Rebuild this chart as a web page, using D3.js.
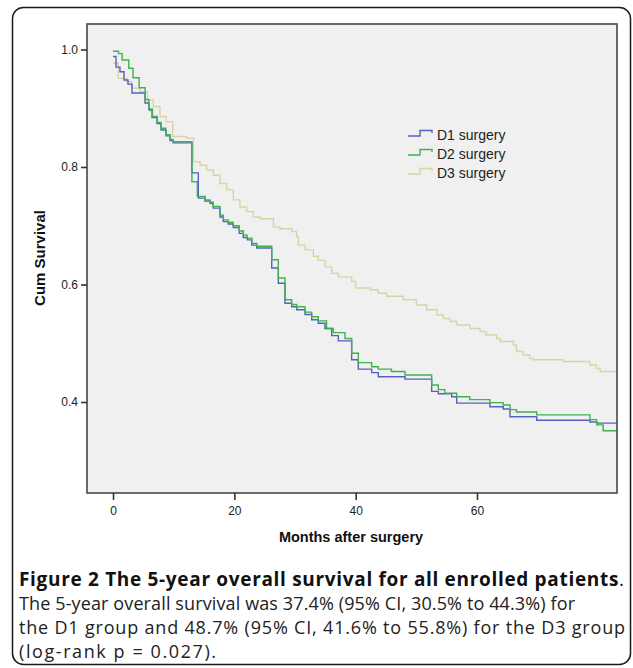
<!DOCTYPE html>
<html>
<head>
<meta charset="utf-8">
<script src="https://cdn.jsdelivr.net/npm/d3@7/dist/d3.min.js"></script>
<style>
  html, body { margin: 0; padding: 0; background: #ffffff; }
  svg { display: block; }
</style>
</head>
<body>
<svg id="chart" width="633" height="668"></svg>
<script>
// ---------- data ----------
const seriesNames = ["D1 surgery", "D2 surgery", "D3 surgery"];
const seriesColors = ["#5560c0", "#3cb44b", "#d9d3a6"];

// [month, cumulative survival] step points
const d1Steps = [
  [0, 0.988], [0.49, 0.970], [1.15, 0.962], [1.81, 0.948], [2.47, 0.941], [3.13, 0.926],
  [5.27, 0.909], [5.93, 0.897], [6.43, 0.884], [7.25, 0.874], [7.91, 0.863], [8.74, 0.853],
  [9.40, 0.845], [9.9, 0.841], [13.0, 0.790], [14.06, 0.747], [15.16, 0.742], [15.99, 0.738],
  [16.53, 0.730], [17.64, 0.715], [18.18, 0.707], [19.0, 0.703], [19.83, 0.697], [20.82, 0.687],
  [21.48, 0.680], [22.14, 0.676], [22.86, 0.667], [23.69, 0.662], [26.16, 0.628], [27.25, 0.602],
  [28.35, 0.568], [29.45, 0.562], [30.28, 0.557], [31.65, 0.549], [32.75, 0.540], [33.84, 0.534],
  [34.94, 0.525], [36.05, 0.513], [37.14, 0.504], [39.34, 0.472], [40.43, 0.456], [42.64, 0.450],
  [43.73, 0.443], [48.13, 0.439], [52.53, 0.418], [53.62, 0.414], [55.83, 0.409], [56.65, 0.398],
  [62.14, 0.392], [64.33, 0.388], [65.44, 0.375], [69.84, 0.369], [78.62, 0.366], [79.73, 0.364]
];
const d2Steps = [
  [0, 0.997], [0.9, 0.993], [1.5, 0.982], [2.6, 0.968], [3.3, 0.952], [4.3, 0.935],
  [5.3, 0.915], [5.9, 0.899], [6.5, 0.886], [7.3, 0.876], [7.9, 0.866], [8.7, 0.855],
  [9.4, 0.847], [9.9, 0.843], [13.0, 0.775], [13.9, 0.750], [15.2, 0.744], [16.0, 0.740],
  [16.5, 0.733], [17.6, 0.718], [18.2, 0.710], [19.0, 0.706], [19.8, 0.700], [20.8, 0.691],
  [21.5, 0.684], [22.1, 0.679], [22.9, 0.670], [23.7, 0.665], [26.16, 0.642], [27.25, 0.611],
  [28.35, 0.574], [29.45, 0.566], [30.3, 0.562], [31.65, 0.553], [32.75, 0.545], [33.84, 0.538],
  [35.2, 0.525], [36.3, 0.518], [38.24, 0.508], [39.34, 0.483], [40.43, 0.467], [42.64, 0.460],
  [43.73, 0.456], [45.9, 0.452], [48.13, 0.446], [52.53, 0.429], [53.62, 0.421], [54.7, 0.415],
  [56.65, 0.409], [58.8, 0.404], [62.14, 0.399], [64.33, 0.395], [65.44, 0.387], [66.5, 0.383],
  [69.84, 0.378], [78.62, 0.370], [79.73, 0.361], [80.8, 0.351]
];
const d3Steps = [
  [0, 0.977], [0.87, 0.951], [2.25, 0.945], [3.08, 0.934], [4.45, 0.928], [5.66, 0.914],
  [6.64, 0.903], [7.75, 0.886], [8.74, 0.877], [9.84, 0.852], [12.15, 0.849], [13.26, 0.809],
  [14.34, 0.803], [15.44, 0.795], [16.53, 0.786], [17.63, 0.772], [18.74, 0.761], [19.83, 0.744],
  [20.93, 0.732], [22.03, 0.724], [23.13, 0.715], [24.23, 0.712], [26.43, 0.698], [27.53, 0.695],
  [29.46, 0.690], [30.28, 0.681], [30.55, 0.667], [31.65, 0.659], [33.02, 0.648], [33.84, 0.641],
  [34.94, 0.630], [36.05, 0.619], [37.14, 0.613], [39.34, 0.605], [40.0, 0.594], [42.38, 0.591],
  [43.73, 0.585], [45.1, 0.580], [47.85, 0.574], [50.0, 0.565], [51.7, 0.557], [53.36, 0.548],
  [54.46, 0.542], [55.56, 0.537], [56.65, 0.531], [58.85, 0.525], [60.5, 0.520], [61.5, 0.514],
  [63.23, 0.508], [63.8, 0.503], [66.0, 0.497], [66.5, 0.486], [67.6, 0.480], [68.7, 0.474],
  [69.3, 0.472], [74.2, 0.469], [78.6, 0.463], [79.7, 0.457], [80.3, 0.452]
];
const allSteps = [d1Steps, d2Steps, d3Steps];

const xTicks = [0, 20, 40, 60];
const yTicks = [0.4, 0.6, 0.8, 1.0];
const xDomain = [-4.29, 83.08];
const yDomain = [0.2451, 1.0434];

const xTitle = "Months after surgery";
const yTitle = "Cum Survival";
const captionBold = "Figure 2 The 5-year overall survival for all enrolled patients";
const captionLines = [
  "The 5-year overall survival was 37.4% (95% CI, 30.5% to 44.3%) for",
  "the D1 group and 48.7% (95% CI, 41.6% to 55.8%) for the D3 group",
  "(log-rank p = 0.027)."
];

// ---------- layout ----------
const svg = d3.select("#chart");
const plot = { left: 87, top: 24, right: 617, bottom: 493 };

// outer rounded frame
svg.append("rect")
  .attr("x", 12.5).attr("y", 7.5)
  .attr("width", 618).attr("height", 657)
  .attr("rx", 11).attr("ry", 11)
  .attr("fill", "#ffffff")
  .attr("stroke", "#1a1a1a").attr("stroke-width", 1.5);

const x = d3.scaleLinear().domain(xDomain).range([plot.left, plot.right]);
const y = d3.scaleLinear().domain(yDomain).range([plot.bottom, plot.top]);

// plot background
svg.append("rect")
  .attr("x", plot.left).attr("y", plot.top)
  .attr("width", plot.right - plot.left).attr("height", plot.bottom - plot.top)
  .attr("fill", "#f0f0f0");

svg.append("clipPath").attr("id", "clip")
  .append("rect")
  .attr("x", plot.left).attr("y", plot.top)
  .attr("width", plot.right - plot.left).attr("height", plot.bottom - plot.top);

// curves
const line = d3.line()
  .x(d => x(d[0])).y(d => y(d[1]))
  .curve(d3.curveStepAfter);

const g = svg.append("g").attr("clip-path", "url(#clip)");
[2, 0, 1].forEach(i => {
  const pts = allSteps[i].slice();
  pts.push([xDomain[1] + 1, pts[pts.length - 1][1]]);
  g.append("path")
    .datum(pts)
    .attr("fill", "none")
    .attr("stroke", seriesColors[i])
    .attr("stroke-width", 1.4)
    .attr("d", line);
});

// plot frame
svg.append("rect")
  .attr("x", plot.left).attr("y", plot.top)
  .attr("width", plot.right - plot.left).attr("height", plot.bottom - plot.top)
  .attr("fill", "none")
  .attr("stroke", "#474747").attr("stroke-width", 1.6);

// axes
const yAxis = d3.axisLeft(y).tickValues(yTicks).tickFormat(d3.format(".1f")).tickSize(6).tickPadding(3);
const yg = svg.append("g").attr("transform", `translate(${plot.left},0)`).call(yAxis);
yg.select(".domain").remove();
yg.selectAll(".tick line").attr("stroke", "#333").attr("stroke-width", 1.6);
yg.selectAll(".tick text")
  .attr("font-family", "'Liberation Sans', Arial, sans-serif")
  .attr("font-size", 12).attr("fill", "#222");

const xAxis = d3.axisBottom(x).tickValues(xTicks).tickFormat(d3.format("d")).tickSize(7).tickPadding(6);
const xg = svg.append("g").attr("transform", `translate(0,${plot.bottom})`).call(xAxis);
xg.select(".domain").remove();
xg.selectAll(".tick line").attr("stroke", "#333").attr("stroke-width", 1.6);
xg.selectAll(".tick text")
  .attr("font-family", "'Liberation Sans', Arial, sans-serif")
  .attr("font-size", 12).attr("fill", "#222");

// axis titles
svg.append("text")
  .attr("x", 351).attr("y", 542)
  .attr("text-anchor", "middle")
  .attr("font-family", "'Liberation Sans', Arial, sans-serif")
  .attr("font-weight", "bold").attr("font-size", 14.5).attr("fill", "#111")
  .text(xTitle);

svg.append("text")
  .attr("transform", "translate(45,258) rotate(-90)")
  .attr("text-anchor", "middle")
  .attr("font-family", "'Liberation Sans', Arial, sans-serif")
  .attr("font-weight", "bold").attr("font-size", 15).attr("fill", "#111")
  .text(yTitle);

// legend
const legend = svg.append("g").attr("transform", "translate(408,135)");
seriesNames.forEach((name, i) => {
  const row = legend.append("g").attr("transform", `translate(0,${i * 19})`);
  row.append("path")
    .attr("d", "M0,1 H12 V-4.5 H24 V-2")
    .attr("fill", "none")
    .attr("stroke", seriesColors[i]).attr("stroke-width", 1.4);
  row.append("text")
    .attr("x", 29).attr("y", 5)
    .attr("font-family", "'Liberation Sans', Arial, sans-serif")
    .attr("font-size", 14).attr("fill", "#222")
    .text(name);
});

// caption
const capFont = "'Open Sans', 'Noto Sans', sans-serif";
const cap = svg.append("text")
  .attr("x", 19).attr("y", 586)
  .attr("font-family", capFont)
  .attr("font-size", 19).attr("fill", "#111")
  .attr("textLength", 605).attr("lengthAdjust", "spacing");
cap.append("tspan").attr("font-weight", "bold").text(captionBold);
cap.append("tspan").text(".");

const capWidths = [556, 606, 197];
captionLines.forEach((t, i) => {
  svg.append("text")
    .attr("x", 19).attr("y", 610 + i * 24)
    .attr("font-family", capFont)
    .attr("font-size", 18).attr("fill", "#222")
    .attr("textLength", capWidths[i]).attr("lengthAdjust", "spacing")
    .text(t);
});
</script>
</body>
</html>
